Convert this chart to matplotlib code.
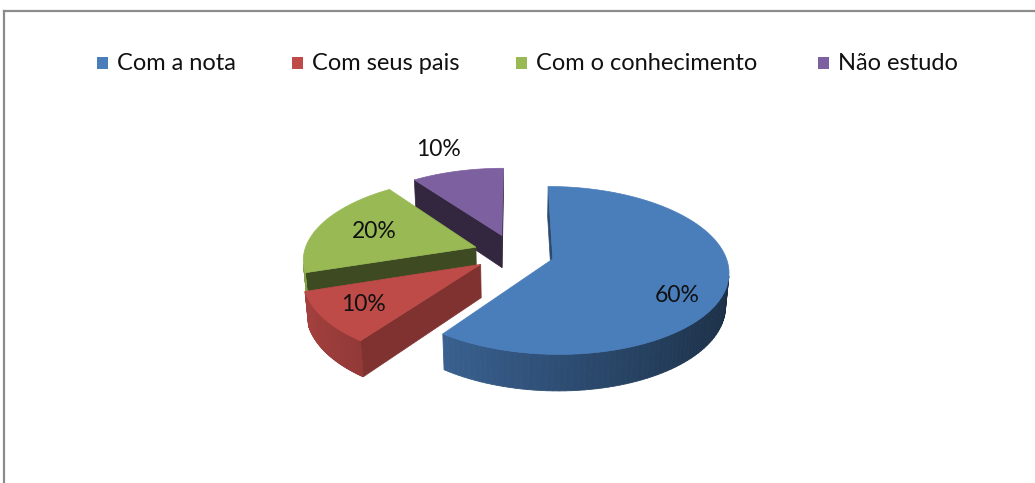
import numpy as np
import matplotlib.pyplot as plt
from matplotlib.patches import Polygon, Rectangle
from matplotlib.lines import Line2D
from matplotlib.colors import to_rgb

labels = ['Com a nota', 'Com seus pais', 'Com o conhecimento', 'Não estudo']
values = [60, 10, 20, 10]
colors = ['#4a7ebb', '#be4b48', '#98b954', '#7d60a0']
cut_colors = ['#2c4a6e', '#7f3230', '#3e4a22', '#33273f']
# label placement (radius, angle shift in degrees)
label_r = [0.78, 0.76, 0.65, 1.4]
label_shift = [-14, 0, 0, 1]

# view setup (pixel space)
CX, CY = 514, 253
SCALE = 172
ELEV = np.radians(28)
DIST = 6.5
DEPTH = 0.22
EXPLODE = 0.235


def project(x, y, z):
    d = DIST + y*np.cos(ELEV) - z*np.sin(ELEV)
    w = y*np.sin(ELEV) + z*np.cos(ELEV)
    f = SCALE*DIST
    return CX + f*x/d, CY - f*w/d


cam = np.array([0, -DIST*np.cos(ELEV), DIST*np.sin(ELEV)])


def visible(p, n):
    return np.dot(cam - p, n) > 0


def shade(c, k):
    return tuple(np.clip(np.array(to_rgb(c))*k, 0, 1))


fig = plt.figure(figsize=(10.35, 4.83), dpi=100)
ax = fig.add_axes([0, 0, 1, 1])
ax.set_xlim(0, 1035)
ax.set_ylim(483, 0)
ax.axis('off')

# chart border
ax.add_line(Line2D([4, 1040], [11, 11], color='#8c8c8c', lw=1.6))
ax.add_line(Line2D([4, 4], [11, 490], color='#8c8c8c', lw=1.6))

total = sum(values)
cum = np.concatenate([[0], np.cumsum(values)])/total
slices = []
for i in range(len(values)):
    t0 = np.radians(90 - 360*cum[i])
    t1 = np.radians(90 - 360*cum[i+1])
    mid = (t0 + t1)/2
    ox, oy = EXPLODE*np.cos(mid), EXPLODE*np.sin(mid)
    slices.append((i, t0, t1, mid, ox, oy))

# paint back to front
slices.sort(key=lambda s: -np.linalg.norm(cam - np.array([s[4], s[5], 0])))

for i, t0, t1, mid, ox, oy in slices:
    ts = np.linspace(t0, t1, 120)
    # cut faces
    for t, sgn in ((t0, 1), (t1, -1)):
        n = np.array([-np.sin(t), np.cos(t), 0])*sgn
        pm = np.array([ox + 0.5*np.cos(t), oy + 0.5*np.sin(t), -DEPTH/2])
        if visible(pm, n):
            pts = [project(ox, oy, 0), project(ox+np.cos(t), oy+np.sin(t), 0),
                   project(ox+np.cos(t), oy+np.sin(t), -DEPTH), project(ox, oy, -DEPTH)]
            ax.add_patch(Polygon(pts, closed=True, fc=cut_colors[i], ec=cut_colors[i], lw=0.5))
    # outer wall
    for a, b in zip(ts[:-1], ts[1:]):
        t = (a + b)/2
        n = np.array([np.cos(t), np.sin(t), 0])
        if not visible(np.array([ox+np.cos(t), oy+np.sin(t), 0]), n):
            continue
        k = 0.62 - 0.25*np.cos(t)
        c = shade(colors[i], k)
        pts = [project(ox+np.cos(a), oy+np.sin(a), 0), project(ox+np.cos(b), oy+np.sin(b), 0),
               project(ox+np.cos(b), oy+np.sin(b), -DEPTH), project(ox+np.cos(a), oy+np.sin(a), -DEPTH)]
        ax.add_patch(Polygon(pts, closed=True, fc=c, ec=c, lw=0.6))
    # top face
    pts = [project(ox, oy, 0)] + [project(ox+np.cos(t), oy+np.sin(t), 0) for t in ts]
    ax.add_patch(Polygon(pts, closed=True, fc=colors[i], ec=colors[i], lw=0.5))

# data labels
for i, t0, t1, mid, ox, oy in slices:
    a = mid + np.radians(label_shift[i])
    r = label_r[i]
    lx, ly = project(ox + r*np.cos(a), oy + r*np.sin(a), 0)
    ax.text(lx, ly, f'{values[i]/total:.0%}', ha='center', va='center',
            fontsize=16.5, family='Lato', color='#111111')

# legend
sq_x = [97, 292, 516, 818]
for i, lab in enumerate(labels):
    ax.add_patch(Rectangle((sq_x[i], 57), 11, 12, fc=colors[i], ec='none'))
    ax.text(sq_x[i] + 20, 63, lab, ha='left', va='center', fontsize=17,
            family='Lato', color='#111111')

fig.savefig('out.png', dpi=100)
